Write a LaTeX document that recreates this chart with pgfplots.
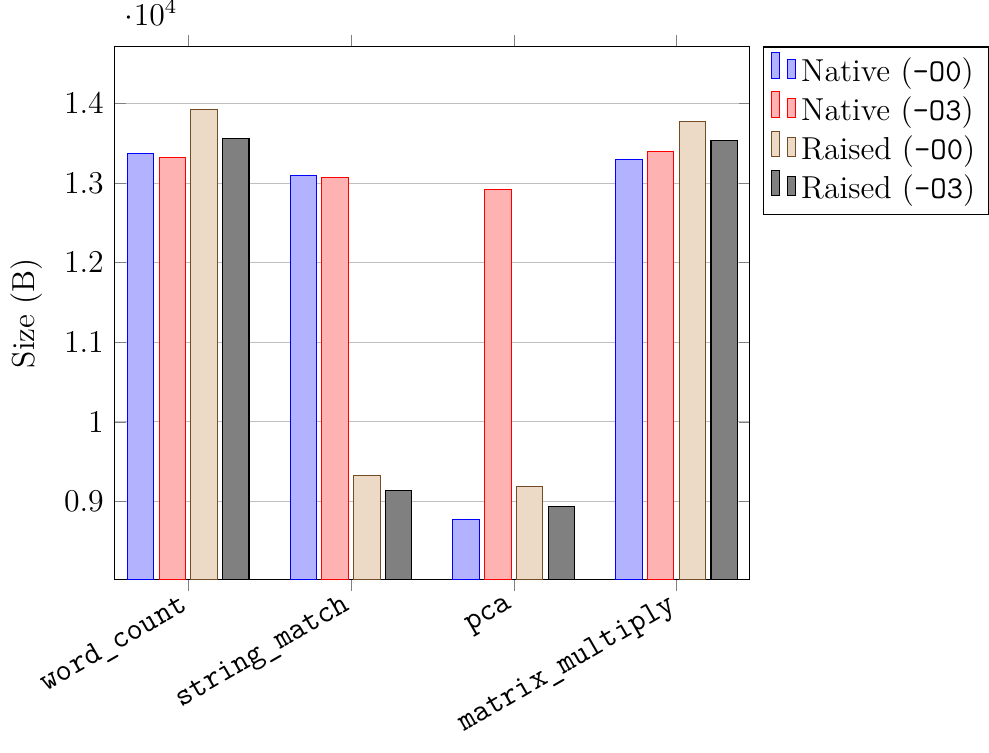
\documentclass[12pt,border=0pt]{standalone}
\usepackage{pgfplots}
\pgfplotsset{compat=1.18}
\begin{document}
\begin{tikzpicture}
\begin{axis}[
  ybar=2pt,
  bar width=10pt,
  scale only axis,
  width=240pt, height=201.5pt,
  xmin=-0.45, xmax=3.45,
  ymin=8020, ymax=14716,
  xtick={0,1,2,3},
  xticklabels={\texttt{word\_count},\texttt{string\_match},\texttt{pca},\texttt{matrix\_multiply}},
  x tick label style={xshift=2.5pt, yshift=-2.8pt, rotate=30, anchor=east},
  every y tick scale label/.append style={yshift=1.8pt},
  xtick align=outside,
  ymajorgrids,
  ylabel={Size (B)},
  legend style={at={(1.02,1)}, anchor=north west},
  legend cell align=left,
]
\addplot coordinates {(0,13372) (1,13095) (2,8774) (3,13296)};
\addplot coordinates {(0,13322) (1,13070) (2,12920) (3,13397)};
\addplot coordinates {(0,13925) (1,9327) (2,9188) (3,13774)};
\addplot coordinates {(0,13560) (1,9138) (2,8937) (3,13535)};
\legend{Native (\texttt{-O0}), Native (\texttt{-O3}), Raised (\texttt{-O0}), Raised (\texttt{-O3})}
\end{axis}
\end{tikzpicture}
\end{document}
